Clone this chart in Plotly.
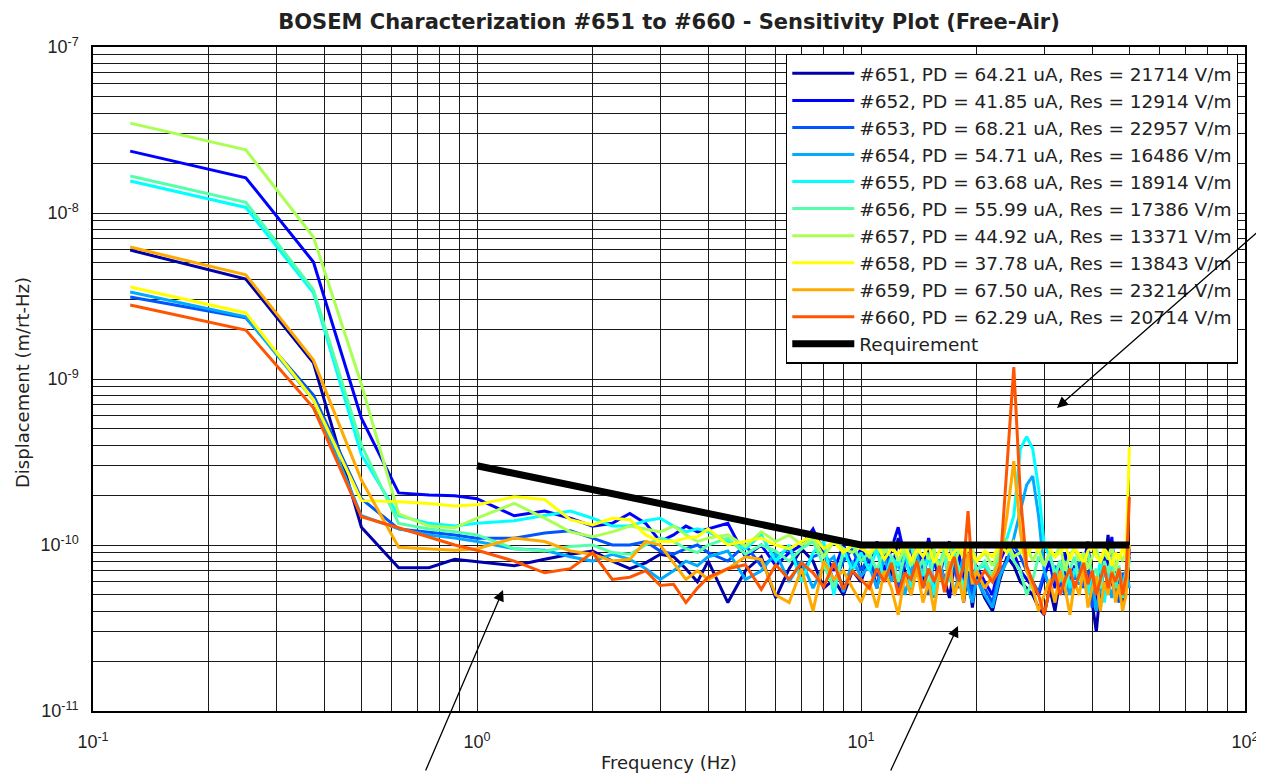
import plotly.graph_objects as go

# Displacement values below are in units of 1e-10 m/rt-Hz
UNIT = 1e-10

FREQ = [0.125, 0.25, 0.375, 0.5, 0.625, 0.75, 0.875, 1.0,
        1.25, 1.5, 1.75, 2.0, 2.25, 2.5, 2.75, 3.0, 3.25, 3.5, 3.75, 4.0,
        4.5, 5.0, 5.5, 6.0, 6.5, 7.0, 7.5, 8.0, 8.5, 9.0, 9.5, 10.0,
        10.5, 11.0, 11.5, 12.0, 12.5, 13.0, 13.5, 14.0, 14.5, 15.0, 15.5, 16.0, 16.5, 17.0,
        17.5, 18.0, 18.5, 19.0, 19.5, 20.0,
        21, 22, 23, 24, 25, 26, 27, 28, 29, 30, 31, 32, 33, 34, 35, 36, 37, 38, 39, 40,
        41, 42, 43, 44, 45, 46, 47, 48, 49, 50]

S651 = [59.8, 40.0, 12.5, 1.28, 0.73, 0.73, 0.82, 0.79,
        0.75, 0.82, 0.88, 0.92, 0.80, 0.72, 0.78, 0.88, 0.85, 0.72, 0.60, 0.80,
        0.45, 0.70, 0.85, 0.48, 0.72, 0.95, 0.80, 0.55, 0.62, 0.50, 0.70, 0.60,
        0.85, 0.55, 0.95, 0.65, 1.10, 0.70, 0.50, 0.88, 0.60, 0.95, 0.52, 0.80, 0.62, 0.48,
        0.75, 0.90, 0.45, 0.70, 0.42, 0.65,
        0.48, 0.40, 0.62, 0.85, 0.75, 0.60, 0.55, 0.50, 0.42, 0.38, 0.55, 0.40, 0.62, 0.70,
        0.55, 0.68, 0.58, 0.75, 1.05, 0.45, 0.30, 0.55, 0.72, 1.15, 0.60, 0.50, 0.65, 0.45,
        0.58, 0.95]
S652 = [236, 163, 50.7, 5.8, 2.06, 2.0, 1.98, 1.9,
        1.5, 1.6, 1.45, 1.3, 1.35, 1.55, 1.35, 1.05, 1.15, 1.3, 1.2, 1.25,
        1.35, 0.85, 1.0, 0.75, 0.9, 1.0, 1.25, 0.9, 0.7, 1.0, 0.75, 0.95,
        0.8, 1.05, 0.7, 0.95, 1.28, 0.85, 0.65, 1.0, 0.75, 1.1, 0.8, 0.62, 0.9, 1.05,
        0.7, 0.85, 0.6, 0.92, 0.55, 0.75,
        0.6, 0.5, 0.8, 1.0, 0.9, 0.7, 0.62, 0.55, 0.5, 0.65, 0.8, 0.55, 0.7, 0.9,
        0.6, 0.75, 0.65, 0.85, 0.95, 0.6, 0.45, 0.7, 0.85, 0.75, 1.12, 0.6, 0.7, 0.55,
        0.65, 0.9]
S653 = [31.2, 23.4, 8.0, 1.9, 1.25, 1.2, 1.15, 1.1,
        1.1, 1.18, 1.22, 1.1, 1.0, 1.0, 1.05, 0.92, 0.88, 0.95, 1.0, 0.9,
        0.8, 1.0, 0.75, 0.85, 0.95, 0.7, 0.85, 0.9, 0.6, 0.8, 0.95, 0.7,
        0.85, 0.65, 0.9, 0.75, 0.55, 0.8, 0.95, 0.65, 0.78, 0.5, 0.85, 0.7, 0.9, 0.6,
        0.75, 0.55, 0.8, 0.68, 0.5, 0.72,
        0.55, 0.45, 0.7, 0.8, 1.0, 0.85, 0.7, 0.6, 0.52, 0.68, 0.55, 0.75, 0.6, 0.5,
        0.72, 0.62, 0.8, 0.55, 0.7, 0.42, 0.6, 0.75, 0.5, 0.65, 0.8, 0.55, 0.45, 0.68,
        0.6, 0.85]
S654 = [33.4, 23.7, 7.5, 1.5, 1.25, 1.15, 1.1, 1.05,
        0.95, 0.93, 0.85, 0.8, 0.88, 0.82, 0.72, 0.62, 0.7, 0.8, 0.75, 0.85,
        0.92, 0.62, 0.7, 0.9, 0.6, 0.8, 0.55, 0.75, 0.85, 0.52, 0.8, 0.65,
        0.75, 0.55, 0.85, 0.6, 0.8, 0.5, 0.7, 0.9, 0.55, 0.72, 0.48, 0.82, 0.6, 0.75,
        0.5, 0.68, 0.85, 0.55, 0.45, 0.62,
        0.5, 0.42, 0.65, 0.8, 1.1, 1.6, 2.3, 2.6, 1.5, 0.7, 0.55, 0.65, 0.8, 0.6,
        0.5, 0.7, 0.58, 0.75, 0.5, 0.62, 0.4, 0.55, 0.7, 0.6, 0.48, 0.65, 0.52, 0.6,
        0.7, 0.55]
S655 = [156, 108, 33, 3.5, 1.5, 1.35, 1.3, 1.35,
        1.4, 1.5, 1.6, 1.45, 1.3, 1.3, 1.4, 1.45, 1.3, 1.2, 1.25, 1.2,
        1.05, 0.95, 1.15, 0.8, 1.0, 0.6, 0.9, 1.05, 0.5, 0.95, 0.7, 0.9,
        0.7, 0.95, 0.6, 0.85, 0.75, 1.0, 0.55, 0.8, 0.65, 0.9, 0.5, 0.75, 0.85, 0.6,
        0.95, 0.7, 0.55, 0.8, 0.65, 0.72,
        0.75, 0.6, 0.9, 1.1, 1.5, 3.8, 4.5, 3.8, 2.2, 1.0, 0.85, 0.7, 0.6, 0.8,
        0.55, 0.72, 0.62, 0.85, 0.5, 0.7, 0.58, 0.8, 0.45, 0.65, 0.75, 0.55, 0.7, 0.48,
        0.62, 0.8]
S656 = [167, 116, 34.4, 4.0, 1.35, 1.25, 1.2, 1.15,
        0.95, 0.92, 0.98, 1.0, 0.9, 0.88, 1.0, 1.1, 1.05, 0.95, 0.9, 1.0,
        1.1, 0.88, 1.0, 0.92, 0.8, 0.95, 1.05, 0.75, 0.55, 0.9, 1.0, 0.8,
        0.9, 0.7, 0.95, 0.85, 0.6, 0.88, 1.0, 0.7, 0.82, 0.55, 0.9, 0.75, 0.95, 0.65,
        0.85, 0.72, 0.5, 0.8, 0.9, 0.7,
        0.8, 0.65, 0.9, 1.0, 0.8, 0.7, 0.5, 0.62, 0.85, 0.75, 0.9, 0.65, 0.8, 0.55,
        0.72, 0.85, 0.6, 0.78, 0.9, 0.65, 0.72, 0.55, 0.8, 0.68, 0.85, 0.6, 0.75, 0.5,
        0.7, 0.82]
S657 = [348, 240, 71.6, 9.3, 1.54, 1.3, 1.27, 1.45,
        1.78, 1.45, 1.2, 1.12, 1.2, 1.3, 1.25, 1.2, 1.3, 1.15, 1.05, 1.1,
        1.15, 0.98, 1.2, 1.05, 1.15, 1.0, 1.1, 0.85, 1.05, 0.95, 0.9, 1.0,
        0.85, 1.0, 0.9, 1.05, 0.8, 0.95, 0.75, 0.9, 1.0, 0.82, 0.95, 0.7, 0.88, 1.0,
        0.78, 0.92, 0.85, 0.7, 0.95, 0.8,
        0.9, 0.75, 0.95, 1.05, 0.85, 0.9, 1.0, 0.8, 0.95, 0.75, 0.9, 0.85, 1.0, 0.7,
        0.88, 0.95, 0.8, 0.9, 0.72, 0.85, 0.95, 0.78, 0.9, 0.82, 1.0, 0.7, 0.88, 0.8,
        0.92, 0.85]
S658 = [35.8, 25.0, 7.5, 1.85, 1.82, 1.78, 1.72, 1.75,
        1.95, 1.88, 1.42, 1.32, 1.45, 1.42, 1.15, 1.05, 1.05, 1.1, 1.12, 1.25,
        1.0, 1.05, 1.1, 1.0, 0.95, 1.05, 1.15, 0.95, 1.05, 0.9, 1.0, 0.95,
        0.9, 1.0, 0.82, 0.95, 0.88, 1.02, 0.8, 0.95, 0.85, 1.0, 0.78, 0.92, 0.98, 0.82,
        0.9, 1.0, 0.85, 0.95, 0.88, 0.8,
        0.92, 0.85, 1.0, 0.9, 1.05, 0.95, 0.85, 1.0, 0.92, 1.02, 0.95, 0.85, 0.9, 1.0,
        0.82, 0.95, 0.88, 0.78, 0.92, 1.0, 0.85, 0.8, 0.95, 0.88, 0.75, 0.9, 0.82, 0.95,
        0.85, 3.9]
S659 = [62.4, 42.4, 13.0, 2.46, 0.97, 0.95, 0.93, 0.95,
        1.1, 1.05, 0.92, 0.88, 0.8, 0.82, 1.05, 1.0, 0.78, 0.62, 0.7, 0.62,
        0.72, 0.85, 0.82, 0.5, 0.45, 0.72, 0.4, 0.8, 0.62, 0.7, 0.55, 0.45,
        0.6, 0.42, 0.7, 0.55, 0.38, 0.65, 0.5, 0.72, 0.45, 0.6, 0.4, 0.68, 0.55, 0.8,
        0.5, 0.62, 0.45, 0.9, 0.58, 0.7,
        0.55, 0.65, 0.8, 1.5, 3.2, 1.2, 0.7, 0.55, 0.4, 0.5, 0.62, 0.45, 0.7, 0.55,
        0.38, 0.6, 0.5, 0.72, 0.42, 0.55, 0.65, 0.4, 0.6, 0.5, 0.7, 0.45, 0.58, 0.4,
        0.5, 1.0]
S660 = [27.9, 19.7, 6.7, 1.48, 1.27, 1.12, 1.0, 0.93,
        0.8, 0.68, 0.72, 0.9, 0.62, 0.64, 0.7, 0.57, 0.58, 0.45, 0.55, 0.64,
        0.72, 0.76, 0.54, 0.76, 0.62, 0.78, 0.68, 0.56, 0.78, 0.54, 0.7, 0.62,
        0.55, 0.72, 0.6, 0.78, 0.5, 0.68, 0.62, 0.8, 0.55, 0.72, 0.6, 0.75, 0.52, 0.7,
        0.85, 0.6, 0.75, 1.6, 0.65, 0.58,
        0.7, 0.6, 0.72, 3.0, 11.8, 2.0, 0.75, 0.6, 0.5, 0.38, 0.55, 0.68, 0.5, 0.62,
        0.72, 0.55, 0.65, 0.78, 0.58, 0.7, 0.5, 0.62, 0.75, 0.55, 0.68, 0.6, 0.72, 0.5,
        0.65, 1.95]

SERIES = [S651, S652, S653, S654, S655, S656, S657, S658, S659, S660]
NAMES = [
    "#651, PD = 64.21 uA, Res = 21714 V/m",
    "#652, PD = 41.85 uA, Res = 12914 V/m",
    "#653, PD = 68.21 uA, Res = 22957 V/m",
    "#654, PD = 54.71 uA, Res = 16486 V/m",
    "#655, PD = 63.68 uA, Res = 18914 V/m",
    "#656, PD = 55.99 uA, Res = 17386 V/m",
    "#657, PD = 44.92 uA, Res = 13371 V/m",
    "#658, PD = 37.78 uA, Res = 13843 V/m",
    "#659, PD = 67.50 uA, Res = 23214 V/m",
    "#660, PD = 62.29 uA, Res = 20714 V/m",
]
COLORS = ["#0000aa", "#0000ff", "#0055ff", "#00aaff", "#00ffff",
          "#55ffaa", "#aaff55", "#ffff00", "#ffaa00", "#ff5500"]

REQ_F = [1.0, 10.0, 50.0]
REQ_V = [3.0, 1.0, 1.0]

X_TICKS = [0.1, 1, 10, 100]
X_TICKTEXT = ["10<sup>-1</sup>", "10<sup>0</sup>", "10<sup>1</sup>", "10<sup>2</sup>"]
Y_TICKS = [1e-11, 1e-10, 1e-9, 1e-8, 1e-7]
Y_TICKTEXT = ["10<sup>-11</sup>", "10<sup>-10</sup>", "10<sup>-9</sup>", "10<sup>-8</sup>", "10<sup>-7</sup>"]

X_MINOR = [m * d for d in (0.1, 1, 10) for m in range(2, 10)]
Y_MINOR = [m * d for d in (1e-11, 1e-10, 1e-9, 1e-8) for m in range(2, 10)]

fig = go.Figure()
for i, (vals, name, col) in enumerate(zip(SERIES, NAMES, COLORS)):
    fig.add_trace(go.Scatter(
        x=FREQ, y=[v * UNIT for v in vals], mode="lines", name=name,
        line=dict(color=col, width=3), legendgroup=f"g{i}",
    ))
fig.add_trace(go.Scatter(
    x=REQ_F, y=[v * UNIT for v in REQ_V], mode="lines", name="Requirement",
    line=dict(color="black", width=7), legendgroup="req",
))

FONT = "DejaVu Sans, Arial, sans-serif"
TICKFONT = dict(family="Arial, Liberation Sans, sans-serif", size=18, color="#222")
GRID = "#1a1a1a"

axis_common = dict(
    type="log", showgrid=True, gridcolor=GRID, gridwidth=1.2, automargin=False,
    showline=True, linecolor="black", linewidth=1.5, mirror=True,
    ticks="", zeroline=False, tickfont=TICKFONT,
)
fig.update_xaxes(**axis_common, range=[-1, 2], tickmode="array",
                 tickvals=X_TICKS, ticktext=X_TICKTEXT, ticklabelstandoff=14,
                 minor=dict(tickmode="array", tickvals=X_MINOR, showgrid=True,
                            gridcolor=GRID, gridwidth=1.2, ticks=""))
fig.update_yaxes(**axis_common, range=[-11, -7], tickmode="array",
                 tickvals=Y_TICKS, ticktext=Y_TICKTEXT, ticklabelstandoff=9,
                 minor=dict(tickmode="array", tickvals=Y_MINOR, showgrid=True,
                            gridcolor=GRID, gridwidth=1.2, ticks=""))

# The page puts the figure 8 px in from the window's top-left corner,
# so the figure is drawn 8 px smaller and every screen position is offset.
OFF = 8
FIG_W, FIG_H = 1264 - OFF, 775 - OFF
PL, PR, PT, PB = 93, 1245, 47, 711          # plot area in window pixels
PW, PH = PR - PL, PB - PT

def px(x):
    return (x - PL) / PW

def py(y):
    return 1 - (y - PT) / PH

annotations = [
    dict(text="Frequency (Hz)", xref="paper", yref="paper", x=px(669), y=py(762),
         showarrow=False, font=dict(family=FONT, size=18, color="#222"),
         xanchor="center", yanchor="middle"),
    dict(text="Displacement (m/rt-Hz)", xref="paper", yref="paper", x=px(22), y=py(383),
         showarrow=False, textangle=-90, font=dict(family=FONT, size=18, color="#222"),
         xanchor="center", yanchor="middle"),
]
# three pointer arrows drawn over the figure (head position, tail offset in px)
ARROWS = [((1057, 408), (205, -180)), ((503, 590), (-78, 182)), ((958, 626), (-68, 146))]
for (hx, hy), (ax, ay) in ARROWS:
    annotations.append(dict(
        text="", xref="paper", yref="paper", x=px(hx), y=py(hy),
        axref="pixel", ayref="pixel", ax=ax, ay=ay, showarrow=True,
        arrowhead=2, arrowsize=1.7, arrowwidth=1.3, arrowcolor="black",
    ))

fig.update_layout(
    width=FIG_W, height=FIG_H,
    margin=dict(l=PL - OFF, r=1264 - PR, t=PT - OFF, b=775 - PB, autoexpand=False),
    paper_bgcolor="white", plot_bgcolor="white",
    title=dict(text="<b>BOSEM Characterization #651 to #660 - Sensitivity Plot (Free-Air)</b>",
               xref="paper", x=0.5, xanchor="center",
               yref="container", y=1 - (22 - OFF) / FIG_H, yanchor="middle",
               font=dict(family=FONT, size=21, color="#222")),
    legend=dict(x=0.994, xanchor="right", y=0.99, yanchor="top",
                bgcolor="white", bordercolor="black", borderwidth=1.2,
                font=dict(family=FONT, size=18.5, color="#222"),
                itemwidth=62, tracegroupgap=0, traceorder="normal"),
    annotations=annotations,
    showlegend=True,
)

fig.write_html("out.html")
